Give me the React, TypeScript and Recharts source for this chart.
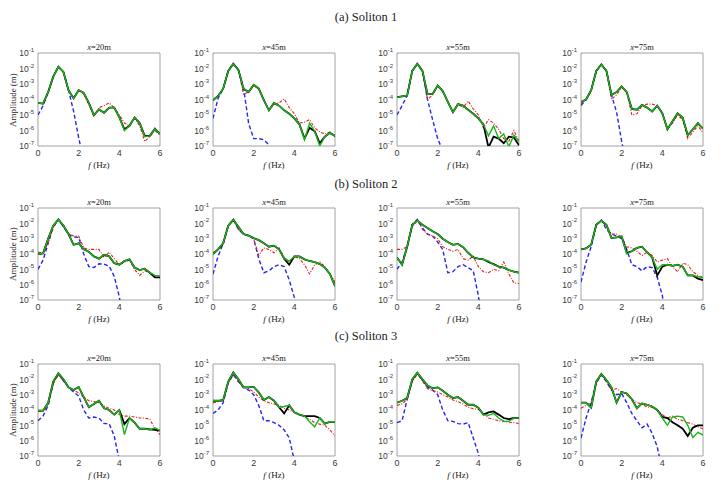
import React from 'react';
import { LineChart, Line, XAxis, YAxis, ReferenceArea } from 'recharts';

const freq = [0, 0.25, 0.5, 0.75, 1, 1.25, 1.5, 1.75, 2, 2.25, 2.5, 2.75, 3, 3.25, 3.5, 3.75, 4, 4.25, 4.5, 4.75, 5, 5.25, 5.5, 5.75, 6];
const xTicks = [0, 2, 4, 6];
const xTickLabels = ['0', '2', '4', '6'];
const yTicks = [1e-7, 1e-6, 1e-5, 1e-4, 1e-3, 1e-2, 1e-1];
const yTickExps = ['-7', '-6', '-5', '-4', '-3', '-2', '-1'];
const stations = ['20', '45', '55', '75'];
const solitonTitles = ['(a) Soliton 1', '(b) Soliton 2', '(c) Soliton 3'];

// ---- Soliton 1 ----
const s1x20Blue = [1e-5, 4e-5, 3e-4, 3e-3, 1.3e-2, 6e-3, 4e-4, 1.8e-5, 3.5e-7, 1e-8];
const s1x20Red = [6e-5, 5e-5, 3e-4, 3e-3, 1.3e-2, 6e-3, 4e-4, 1.2e-4, 4e-4, 2.2e-4, 4.5e-5, 8e-6, 3e-5, 4e-5, 6e-5, 3e-5, 1e-5, 3e-6, 2e-6, 6e-6, 2e-6, 2e-7, 4e-7, 1e-6, 5e-7];
const s1x20Black = [6e-5, 5.5e-5, 3e-4, 3e-3, 1.3e-2, 6e-3, 4e-4, 1.2e-4, 4e-4, 2.7e-4, 6e-5, 1e-5, 2.3e-5, 1.4e-5, 3e-5, 3e-5, 7e-6, 1.2e-6, 2e-6, 7e-6, 3e-6, 4.5e-7, 4.5e-7, 1.3e-6, 6e-7];
const s1x20Green = [6e-5, 5.5e-5, 3e-4, 3e-3, 1.3e-2, 6e-3, 4e-4, 1.2e-4, 4e-4, 2.7e-4, 6e-5, 1e-5, 2.3e-5, 1.4e-5, 3e-5, 3e-5, 7e-6, 1e-6, 2e-6, 7e-6, 3e-6, 4e-7, 4.5e-7, 1.3e-6, 6e-7];

const s1x45Blue = [6e-6, 1.2e-4, 5e-4, 7e-3, 2e-2, 8e-3, 6e-4, 3e-6, 3e-7, 3e-7, 2.5e-7, 1.2e-7];
const s1x45Red = [9e-5, 1.7e-4, 5e-4, 7e-3, 2e-2, 8e-3, 2.2e-4, 3e-4, 8e-4, 5e-4, 1e-4, 2e-5, 5e-5, 6e-5, 1.1e-4, 3e-5, 1.2e-5, 3e-6, 3.5e-6, 5e-6, 1.5e-6, 8e-7, 6e-7, 8e-7, 4e-7];
const s1x45Black = [9e-5, 1.7e-4, 5e-4, 7e-3, 2e-2, 8e-3, 5e-4, 3e-4, 9e-4, 5e-4, 9e-5, 2e-5, 6e-5, 4e-5, 2e-5, 1.2e-5, 6e-6, 2.5e-6, 3e-7, 1.5e-6, 9e-7, 1.5e-7, 4e-7, 7e-7, 4.5e-7];
const s1x45Green = [9e-5, 1.7e-4, 5e-4, 7e-3, 2e-2, 8e-3, 5e-4, 3e-4, 9e-4, 5e-4, 9e-5, 2e-5, 6e-5, 4e-5, 2e-5, 1.2e-5, 6e-6, 2.5e-6, 2.5e-7, 3e-6, 9e-7, 1e-7, 4e-7, 7e-7, 4.5e-7];

const s1x55Blue = [1e-5, 4e-5, 1.8e-4, 7e-3, 2e-2, 7e-3, 1e-4, 5e-6, 3e-7, 5e-8];
const s1x55Red = [1.4e-4, 1.6e-4, 1.8e-4, 7e-3, 2e-2, 7e-3, 1e-4, 2e-4, 7e-4, 3.5e-4, 7e-5, 1.5e-5, 5e-5, 3e-5, 8e-5, 2.5e-5, 1e-5, 1.5e-6, 5e-6, 3e-6, 1.2e-6, 3e-7, 2e-7, 1e-6, 2e-7];
const s1x55Black = [1.4e-4, 1.6e-4, 1.8e-4, 7e-3, 2e-2, 7e-3, 2.3e-4, 2.3e-4, 8e-4, 3.5e-4, 7e-5, 1.5e-5, 5e-5, 4e-5, 2.2e-5, 1.2e-5, 6e-6, 2.5e-6, 8e-8, 4e-7, 3e-7, 1.5e-7, 4e-7, 3.5e-7, 1.1e-7];
const s1x55Green = [1.4e-4, 1.6e-4, 1.8e-4, 7e-3, 2e-2, 7e-3, 2.3e-4, 2.3e-4, 8e-4, 3.5e-4, 7e-5, 1.5e-5, 5e-5, 4e-5, 2.2e-5, 1.2e-5, 6e-6, 2.5e-6, 4.5e-7, 2e-6, 3e-7, 6e-7, 9e-8, 5e-7, 2e-7];

const s1x75Blue = [4e-5, 1e-4, 4e-4, 7e-3, 1.8e-2, 7e-3, 2e-4, 1.5e-5, 2e-7, 5e-9];
const s1x75Red = [5e-5, 1e-4, 4e-4, 7e-3, 1.8e-2, 7e-3, 1e-4, 2e-4, 6e-4, 3e-4, 1e-5, 1.2e-5, 4e-5, 5e-5, 5e-5, 4e-5, 1.2e-5, 1.5e-6, 3e-6, 1e-5, 5e-6, 3e-7, 8e-7, 2e-6, 7e-7];
const s1x75Black = [7e-5, 1e-4, 4e-4, 7e-3, 1.8e-2, 7e-3, 2e-4, 3e-4, 7e-4, 3e-4, 2.5e-5, 2.2e-5, 4.5e-5, 3e-5, 1.7e-5, 4e-5, 1.3e-5, 1.2e-6, 4e-6, 1.3e-5, 7e-6, 5e-7, 1.2e-6, 3e-6, 1.3e-6];
const s1x75Green = [7e-5, 1e-4, 4e-4, 7e-3, 1.8e-2, 7e-3, 2e-4, 3e-4, 7e-4, 3e-4, 2.5e-5, 2.2e-5, 4.5e-5, 3e-5, 1.7e-5, 4e-5, 1.3e-5, 1.2e-6, 4e-6, 1.3e-5, 7e-6, 5e-7, 1.2e-6, 3e-6, 1.3e-6];

// ---- Soliton 2 ----
const s2x20Blue = [1e-5, 4e-5, 5e-4, 6e-3, 1.7e-2, 6e-3, 2e-3, 1.3e-3, 1.2e-3, 1e-4, 1.5e-5, 1.3e-5, 2.3e-5, 2.2e-5, 1.6e-5, 3.5e-6, 1.6e-7, 1e-9];
const s2x20Red = [1.3e-4, 1.2e-4, 5e-4, 5e-3, 1.8e-2, 8e-3, 2e-3, 1.5e-3, 1.5e-3, 2.5e-4, 2e-4, 2e-4, 2e-4, 6e-5, 1.3e-4, 5e-5, 2e-5, 3e-5, 4e-5, 1e-5, 4e-6, 8e-6, 6e-6, 4e-6, 3.5e-6];
const s2x20Black = [1e-4, 1.1e-4, 1e-3, 7e-3, 1.8e-2, 7e-3, 2e-3, 4e-4, 5e-4, 2e-4, 1.4e-4, 7e-5, 5e-5, 9e-5, 7e-5, 2.5e-5, 2e-5, 3.5e-5, 4.5e-5, 1.3e-5, 9e-6, 1.1e-5, 6e-6, 3e-6, 3e-6];
const s2x20Green = [1e-4, 1.1e-4, 1e-3, 7e-3, 1.8e-2, 7e-3, 2e-3, 4e-4, 5e-4, 2e-4, 1.4e-4, 7e-5, 5e-5, 9e-5, 7e-5, 2.5e-5, 2e-5, 3.5e-5, 4.5e-5, 1.3e-5, 9e-6, 1.1e-5, 6e-6, 4e-6, 3.5e-6];

const s2x45Blue = [5e-6, 7e-5, 5e-4, 7e-3, 1.8e-2, 4e-3, 2e-3, 1.5e-3, 1e-3, 5e-5, 6e-6, 8e-6, 1.5e-5, 2e-5, 1.5e-5, 2e-6, 1.5e-7, 1e-9];
const s2x45Red = [1.2e-4, 2e-4, 4e-4, 7e-3, 1.6e-2, 4e-3, 2e-3, 1.5e-3, 1e-3, 8e-5, 2.5e-4, 2e-4, 1.2e-4, 2.5e-4, 6e-5, 3e-5, 7e-5, 5e-5, 2e-5, 5e-6, 2e-5, 3e-5, 1.5e-5, 5e-6, 1.5e-6];
const s2x45Black = [1e-4, 2e-4, 5e-4, 7e-3, 1.7e-2, 6e-3, 2e-3, 1.6e-3, 1.1e-3, 8e-4, 5e-4, 3e-4, 3.5e-4, 2e-4, 5e-5, 2e-5, 7e-5, 7e-5, 4.5e-5, 3.5e-5, 3e-5, 2.2e-5, 1.3e-5, 5e-6, 8e-7];
const s2x45Green = [1e-4, 2e-4, 5e-4, 7e-3, 1.7e-2, 6e-3, 2e-3, 1.6e-3, 1.1e-3, 8e-4, 5e-4, 3e-4, 3.5e-4, 2e-4, 5e-5, 3.5e-5, 7e-5, 7e-5, 4.5e-5, 3.5e-5, 3e-5, 2.2e-5, 1.3e-5, 5e-6, 8e-7];

const s2x55Blue = [1e-5, 3e-5, 3e-4, 8e-3, 1.8e-2, 5e-3, 2e-3, 1.5e-3, 6e-4, 2e-4, 6e-6, 7e-6, 1.5e-5, 2e-5, 1.3e-5, 8e-6, 2e-7, 1e-9];
const s2x55Red = [2e-4, 2e-4, 3e-4, 6e-3, 1.6e-2, 4e-3, 2e-3, 1.5e-3, 1e-3, 3e-4, 2e-4, 1.5e-4, 2e-4, 5e-5, 4e-5, 7e-5, 1.5e-5, 7e-6, 6e-6, 1e-5, 8e-6, 3e-5, 5e-6, 1.3e-6, 1.2e-6];
const s2x55Black = [6e-5, 2e-5, 3e-4, 8e-3, 1.5e-2, 8e-3, 5e-3, 3e-3, 2e-3, 1e-3, 6e-4, 4e-4, 4.5e-4, 2.8e-4, 1.2e-4, 6e-5, 5e-5, 4.5e-5, 3e-5, 2.2e-5, 1.5e-5, 1.3e-5, 9e-6, 7e-6, 6e-6];
const s2x55Green = [6e-5, 2e-5, 3e-4, 8e-3, 1.5e-2, 8e-3, 5e-3, 3e-3, 2e-3, 1e-3, 6e-4, 4e-4, 4.5e-4, 2.8e-4, 1.2e-4, 6e-5, 5e-5, 4.5e-5, 3.5e-5, 2e-5, 1.5e-5, 1.3e-5, 9e-6, 7e-6, 6e-6];

const s2x75Blue = [1.5e-6, 3e-5, 3e-4, 8e-3, 1.6e-2, 4e-3, 2e-3, 1.5e-3, 1e-3, 2e-4, 2e-5, 1.5e-5, 8e-6, 1.5e-5, 1.3e-5, 3e-6, 2e-7, 1e-9];
const s2x75Red = [2e-4, 2.5e-4, 4e-4, 7e-3, 1.6e-2, 6e-3, 2e-3, 2e-3, 1.3e-3, 3e-4, 2.5e-4, 1.5e-4, 8e-5, 1.3e-4, 8e-5, 3e-5, 4e-5, 5e-5, 1.5e-5, 7e-6, 2.5e-5, 2e-5, 7e-6, 4e-6, 3e-6];
const s2x75Black = [2e-4, 2.3e-4, 4e-4, 8e-3, 1.5e-2, 8e-3, 1.1e-3, 1.2e-3, 1.4e-3, 1.2e-4, 1.5e-4, 2.5e-4, 3e-4, 1.3e-4, 6e-5, 4e-6, 1.5e-5, 2e-5, 1.7e-5, 2e-5, 1.5e-5, 4e-6, 4e-6, 2.5e-6, 2e-6];
const s2x75Green = [2e-4, 2.3e-4, 4e-4, 8e-3, 1.5e-2, 8e-3, 1.1e-3, 1.2e-3, 1.4e-3, 1e-4, 1.5e-4, 2.5e-4, 3e-4, 1.3e-4, 6e-5, 1e-5, 2e-5, 2e-5, 1.7e-5, 2e-5, 1.5e-5, 4e-6, 4e-6, 3.3e-6, 3e-6];

// ---- Soliton 3 ----
const s3x20Blue = [2e-5, 4e-5, 2e-4, 6e-3, 2.2e-2, 8e-3, 3e-3, 1.5e-3, 8e-4, 1e-4, 3e-5, 3.5e-5, 3e-5, 1.3e-5, 1.3e-5, 2e-6, 5e-8];
const s3x20Red = [8e-5, 8e-5, 2e-4, 5e-3, 2e-2, 8e-3, 3e-3, 2e-3, 1.3e-3, 7e-4, 4e-4, 3.5e-4, 3e-4, 1.8e-4, 1.3e-4, 1e-4, 5e-5, 4e-5, 4e-5, 3.5e-5, 3e-5, 3e-5, 2.5e-5, 6e-6, 2.5e-6];
const s3x20Black = [9e-5, 9e-5, 3e-4, 7e-3, 2.5e-2, 1e-2, 3e-3, 2e-3, 3.2e-3, 7e-4, 1.5e-4, 2.5e-4, 4e-4, 1.3e-4, 1e-4, 5e-5, 1e-4, 1.2e-5, 3e-5, 1.5e-5, 6e-6, 6e-6, 5.5e-6, 5e-6, 4.5e-6];
const s3x20Green = [9e-5, 9e-5, 3e-4, 7e-3, 2.5e-2, 1e-2, 3e-3, 2e-3, 3.2e-3, 7e-4, 1.5e-4, 2.5e-4, 4e-4, 1.3e-4, 1e-4, 5e-5, 1e-4, 2.5e-6, 3e-5, 1.5e-5, 6e-6, 6e-6, 5e-6, 7e-6, 4.5e-6];

const s3x45Blue = [6e-5, 1e-4, 3e-4, 6e-3, 2e-2, 7e-3, 3e-3, 2e-3, 1e-3, 2e-4, 2e-5, 2e-5, 1.5e-5, 1e-5, 5e-6, 1.5e-6, 5e-8];
const s3x45Red = [3e-4, 3.5e-4, 4e-4, 6e-3, 2.2e-2, 7e-3, 3e-3, 2.5e-3, 1.5e-3, 7e-4, 4e-4, 3e-4, 2.5e-4, 2e-4, 1.3e-4, 1e-4, 7e-5, 5e-5, 3.5e-5, 2.5e-5, 1.5e-5, 1.2e-5, 1e-5, 5e-6, 2e-6];
const s3x45Black = [4e-4, 4e-4, 4.5e-4, 7e-3, 2.8e-2, 1e-2, 3e-3, 3e-3, 3.2e-3, 1.4e-3, 4.5e-4, 7e-4, 4e-4, 1.5e-4, 6e-5, 2e-4, 7e-5, 5e-5, 4e-5, 4e-5, 4e-5, 3e-5, 1.3e-5, 1.7e-5, 1.7e-5];
const s3x45Green = [4e-4, 4e-4, 4.5e-4, 7e-3, 2.8e-2, 1e-2, 3e-3, 3e-3, 3.2e-3, 1.4e-3, 4.5e-4, 7e-4, 4e-4, 1.5e-4, 1.7e-4, 2e-4, 7e-5, 5e-5, 4e-5, 1.7e-5, 8e-6, 3e-5, 1.3e-5, 1.7e-5, 1.7e-5];

const s3x55Blue = [1.5e-5, 2e-5, 5e-4, 8e-3, 2.5e-2, 9e-3, 3e-3, 2e-3, 1e-3, 1e-4, 2e-5, 1.8e-5, 1.3e-5, 1.2e-5, 1.5e-5, 1.5e-6, 1.5e-7, 1e-9];
const s3x55Red = [2e-4, 2.5e-4, 5e-4, 7e-3, 2.2e-2, 8e-3, 2.5e-3, 1.8e-3, 1.5e-3, 1e-3, 7e-4, 4.5e-4, 3.5e-4, 2.5e-4, 1.5e-4, 1.2e-4, 1.1e-4, 6e-5, 3e-5, 2.5e-5, 2e-5, 1.8e-5, 1.6e-5, 1.5e-5, 1.3e-5];
const s3x55Black = [3e-4, 4e-4, 6e-4, 1e-2, 2.7e-2, 1e-2, 4e-3, 2.6e-3, 3e-3, 1.8e-3, 1e-3, 6e-4, 7e-4, 4e-4, 2.2e-4, 2.2e-4, 1.4e-4, 5e-5, 7e-5, 8e-5, 5e-5, 3e-5, 2.5e-5, 3e-5, 3e-5];
const s3x55Green = [3e-4, 4e-4, 6e-4, 1e-2, 2.7e-2, 1e-2, 4e-3, 2.6e-3, 3e-3, 1.8e-3, 1e-3, 6e-4, 7e-4, 4e-4, 2.2e-4, 2.2e-4, 1.4e-4, 5e-5, 4.5e-5, 6e-5, 3e-5, 1.8e-5, 1.8e-5, 3e-5, 3e-5];

const s3x75Blue = [1.5e-6, 3e-5, 3e-4, 6e-3, 2e-2, 7e-3, 2e-3, 1e-3, 1.2e-3, 3e-4, 6e-5, 2e-5, 7e-6, 1.2e-5, 3e-6, 4e-7, 1e-8];
const s3x75Red = [1.3e-4, 2e-4, 3e-4, 6e-3, 2e-2, 8e-3, 2e-3, 2.5e-3, 1.5e-3, 1e-3, 5e-4, 3e-4, 2.5e-4, 1.5e-4, 1.5e-4, 1e-4, 5e-5, 3e-5, 4e-5, 2.5e-5, 2e-5, 1.5e-5, 1.2e-5, 8e-6, 6e-6];
const s3x75Black = [3e-4, 3e-4, 1.4e-4, 7e-3, 2.2e-2, 9e-3, 3e-3, 3e-4, 1.5e-3, 1.2e-3, 5e-4, 1.3e-4, 2.7e-4, 2.2e-4, 1.7e-4, 1e-4, 3.5e-5, 3e-5, 1.6e-5, 1e-5, 6e-6, 2e-6, 7e-6, 1e-5, 1e-5];
const s3x75Green = [3e-4, 3e-4, 1.4e-4, 7e-3, 2.2e-2, 9e-3, 3e-3, 3e-4, 1.5e-3, 1.2e-3, 5e-4, 1.3e-4, 2.7e-4, 2.2e-4, 1.7e-4, 1e-4, 3e-5, 1e-5, 3.5e-5, 4e-5, 3.5e-5, 1e-5, 1.6e-6, 3.5e-6, 2.3e-6];

type Series = (number | null)[];
const panels: [Series, Series, Series, Series][][] = [
  [
    [s1x20Blue, s1x20Red, s1x20Black, s1x20Green],
    [s1x45Blue, s1x45Red, s1x45Black, s1x45Green],
    [s1x55Blue, s1x55Red, s1x55Black, s1x55Green],
    [s1x75Blue, s1x75Red, s1x75Black, s1x75Green],
  ],
  [
    [s2x20Blue, s2x20Red, s2x20Black, s2x20Green],
    [s2x45Blue, s2x45Red, s2x45Black, s2x45Green],
    [s2x55Blue, s2x55Red, s2x55Black, s2x55Green],
    [s2x75Blue, s2x75Red, s2x75Black, s2x75Green],
  ],
  [
    [s3x20Blue, s3x20Red, s3x20Black, s3x20Green],
    [s3x45Blue, s3x45Red, s3x45Black, s3x45Green],
    [s3x55Blue, s3x55Red, s3x55Black, s3x55Green],
    [s3x75Blue, s3x75Red, s3x75Black, s3x75Green],
  ],
];

const SERIF = "'Times New Roman', 'Liberation Serif', serif";
const SANS = "Arial, 'Liberation Sans', Helvetica, sans-serif";
const TICK_COLOR = '#3a3a3a';
const BOX_COLOR = '#8a8a8a';

const colLefts = [38, 213, 397, 581];
const rowTops = [53, 208, 364];
const rowHeights = [93, 92, 92];
const rowTitleY = [17, 184, 336];
const PW = 122;

const YTick = (props: any) => {
  const { x, y, payload } = props;
  const idx = yTicks.indexOf(payload.value);
  const exp = idx >= 0 ? yTickExps[idx] : '';
  return (
    <text x={x - 4} y={y + 3.2} textAnchor="end" fontSize={8.5} fill={TICK_COLOR} fontFamily={SANS}>
      10
      <tspan dy={-4.2} fontSize={6}>{exp}</tspan>
    </text>
  );
};

const XTick = (props: any) => {
  const { x, y, payload } = props;
  const idx = xTicks.indexOf(payload.value);
  return (
    <text x={x} y={y + 9.5} textAnchor="middle" fontSize={9} fill={TICK_COLOR} fontFamily={SANS}>
      {idx >= 0 ? xTickLabels[idx] : ''}
    </text>
  );
};

function Panel({ left, top, h, series }: { left: number; top: number; h: number; series: [Series, Series, Series, Series] }) {
  const ML = 34;
  const MT = 12;
  const MR = 6;
  const XH = 18;
  const [blue, red, black, green] = series;
  const data = freq.map((f, i) => ({
    f,
    blue: blue[i] ?? null,
    red: red[i] ?? null,
    black: black[i] ?? null,
    green: green[i] ?? null,
  }));
  return (
    <div style={{ position: 'absolute', left: left - ML, top: top - MT }}>
      <LineChart width={ML + PW + MR} height={MT + h + XH} data={data} margin={{ top: MT, right: MR, bottom: 0, left: 0 }}>
        <XAxis
          dataKey="f"
          type="number"
          domain={[0, 6]}
          ticks={xTicks}
          interval={0}
          allowDataOverflow
          axisLine={false}
          tickLine={false}
          tickSize={0}
          tickMargin={0}
          height={XH}
          tick={<XTick />}
        />
        <YAxis
          type="number"
          scale="log"
          domain={[1e-7, 1e-1]}
          ticks={yTicks}
          interval={0}
          allowDataOverflow
          axisLine={false}
          tickLine={false}
          tickSize={0}
          tickMargin={0}
          width={ML}
          tick={<YTick />}
        />
        <ReferenceArea x1={0} x2={6} y1={1e-7} y2={1e-1} fill="none" stroke={BOX_COLOR} strokeWidth={0.8} ifOverflow="visible" />
        <Line dataKey="blue" stroke="#2424f0" strokeWidth={1.4} strokeDasharray="4 2.5" dot={false} isAnimationActive={false} />
        <Line dataKey="red" stroke="#e41e1e" strokeWidth={1.1} strokeDasharray="3 1.5 1 1.5" dot={false} isAnimationActive={false} />
        <Line dataKey="black" stroke="#000000" strokeWidth={1.8} dot={false} isAnimationActive={false} />
        <Line dataKey="green" stroke="#19b419" strokeWidth={1.4} dot={false} isAnimationActive={false} />
      </LineChart>
    </div>
  );
}

const textStyle = (extra: React.CSSProperties): React.CSSProperties => ({
  position: 'absolute',
  fontFamily: SERIF,
  color: '#222',
  whiteSpace: 'nowrap',
  lineHeight: 1,
  ...extra,
});

export default function App() {
  return (
    <div style={{ position: 'absolute', left: 0, top: 0, width: 727, height: 494, background: '#fff', overflow: 'hidden' }}>
      {solitonTitles.map((t, r) => (
        <div key={t} style={textStyle({ left: 366, top: rowTitleY[r], fontSize: 12.5, transform: 'translate(-50%, -50%)' })}>
          {t}
        </div>
      ))}
      {panels.map((row, r) =>
        row.map((series, c) => (
          <React.Fragment key={`${r}-${c}`}>
            <Panel left={colLefts[c]} top={rowTops[r]} h={rowHeights[r]} series={series} />
            <div style={textStyle({ left: colLefts[c] + PW / 2, top: rowTops[r] - 6, fontSize: 8.5, transform: 'translate(-50%, -50%)' })}>
              <i>x</i>={stations[c]}m
            </div>
            <div style={textStyle({ left: colLefts[c] + PW / 2, top: rowTops[r] + rowHeights[r] + 19, fontSize: 9, transform: 'translate(-50%, -50%)' })}>
              <i>f</i> (Hz)
            </div>
          </React.Fragment>
        ))
      )}
      {rowTops.map((t, r) => (
        <div key={`amp-${r}`} style={textStyle({ left: 13, top: t + rowHeights[r] / 2, fontSize: 9, transform: 'translate(-50%, -50%) rotate(-90deg)' })}>
          Amplitude (m)
        </div>
      ))}
    </div>
  );
}
